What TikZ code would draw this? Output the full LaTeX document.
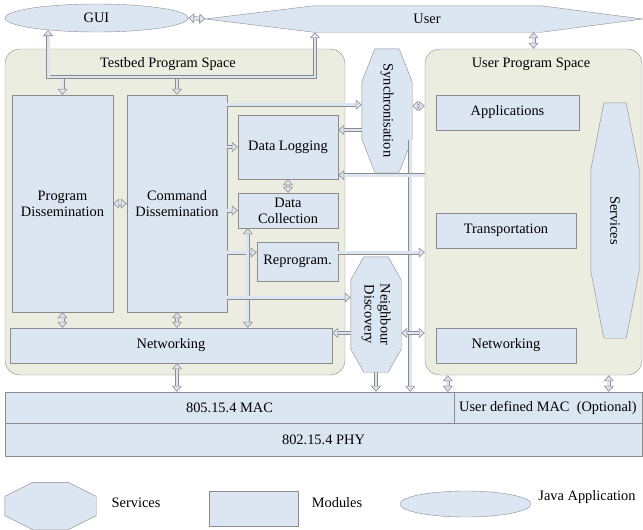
\documentclass[tikz,border=0pt]{standalone}
\usepackage{fontspec}
\setmainfont{Liberation Serif}
\usetikzlibrary{arrows.meta,positioning,calc,shapes.geometric}
\definecolor{modfill}{HTML}{DCE6F2}
\definecolor{spacefill}{HTML}{EBEDE1}
\definecolor{edgegray}{HTML}{8C8C8C}

% octagon round a bounding node: #2 = horizontal cut, #3 = vertical cut
\newcommand{\svcoutline}[3]{%
  \draw[svcshape] ([xshift=#2pt]#1.north west) -- ([xshift=-#2pt]#1.north east)
    -- ([yshift=-#3pt]#1.north east) -- ([yshift=#3pt]#1.south east)
    -- ([xshift=-#2pt]#1.south east) -- ([xshift=#2pt]#1.south west)
    -- ([yshift=#3pt]#1.south west) -- ([yshift=-#3pt]#1.north west) -- cycle;}

\begin{document}
\begin{tikzpicture}[x=1pt,y=-1pt,every node/.style={font=\fontsize{14.4}{16}\selectfont},
  spacebox/.style={draw=edgegray,fill=spacefill,rounded corners=15pt,inner sep=0pt},
  module/.style={draw=edgegray,fill=modfill,inner sep=0pt,align=center},
  svcbox/.style={inner sep=0pt},
  svcshape/.style={draw=edgegray,fill=modfill},
  javaapp/.style={ellipse,draw=edgegray,fill=modfill,inner sep=0pt},
  hollow/.tip={Triangle[fill=modfill,line width=0.6pt,width=10pt,length=6pt]},
  pipe/.style={draw=edgegray,line width=0.6pt,double=modfill,double distance=2.8pt},
  pipeto/.style={pipe,-hollow},
  pipeboth/.style={pipe,hollow-hollow}]
  \useasboundingbox (0,0) rectangle (643,530);

  % program spaces
  \node[spacebox,minimum width=340pt,minimum height=326pt] (testbed) at (175,212) {};
  \node[spacebox,minimum width=217pt,minimum height=326pt] (ups) at (533.5,212) {};
  \node[anchor=base] (testbedtitle) at (168,67) {Testbed Program Space};
  \node[anchor=base] (upstitle) at (531,67) {User Program Space};

  % java applications
  \node[javaapp,minimum width=183pt,minimum height=28pt] (gui) at (96.5,18) {GUI};
  \node[svcbox,minimum width=437pt,minimum height=26pt] (user) at (424,19) {};
  \draw[svcshape] (user.west) -- ([xshift=108pt]user.north west) -- ([xshift=-101pt]user.north east)
    -- (user.east) -- ([xshift=-101pt]user.south east) -- ([xshift=108pt]user.south west) -- cycle;
  \node (usertext) at (427,19) {User};

  % testbed modules
  \node[module,minimum width=101pt,minimum height=217pt] (progdis) at (62.5,203.5) {Program\\Dissemination};
  \node[module,minimum width=100pt,minimum height=217pt] (cmddis) at (177,203.5) {Command\\Dissemination};
  \node[module,minimum width=100pt,minimum height=64pt] (datalog) at (288,147) {Data Logging};
  \node[module,minimum width=100pt,minimum height=35pt] (datacol) at (288,210.5) {Data\\Collection};
  \node[module,minimum width=81pt,minimum height=39pt] (reprog) at (297.5,261.5) {Reprogram.};
  \node[module,minimum width=322pt,minimum height=35pt] (tbnet) at (171,345.5) {Networking};

  % user modules
  \node[module,minimum width=143pt,minimum height=35pt] (apps) at (507.5,112.5) {Applications};
  \node[module,minimum width=140pt,minimum height=35pt] (transport) at (506,230.5) {Transportation};
  \node[module,minimum width=140pt,minimum height=35pt] (usrnet) at (506,345.5) {Networking};

  % services
  \node[svcbox,minimum width=50pt,minimum height=123pt] (sync) at (387,110.5) {};
  \svcoutline{sync}{13}{33}
  \node[rotate=-90] (synclabel) at (sync) {Synchronisation};
  \node[svcbox,minimum width=50pt,minimum height=115pt] (nd) at (376,314.5) {};
  \svcoutline{nd}{13}{23}
  \node[rotate=-90,align=center] (ndlabel) at (nd) {Neighbour\\Discovery};
  \node[svcbox,minimum width=48pt,minimum height=235pt] (svc) at (615,220.5) {};
  \svcoutline{svc}{13}{67}
  \node[rotate=-90] (svclabel) at (svc) {Services};

  % MAC and PHY layers
  \node[module,minimum width=449pt,minimum height=31pt] (mac) at (229.5,407.5) {805.15.4 MAC};
  \node[module,minimum width=188pt,minimum height=31pt] (usrmac) at (548,407.5) {User defined MAC~ (Optional)};
  \node[module,minimum width=637pt,minimum height=33pt] (phy) at (323.5,439.5) {802.15.4 PHY};

  % GUI and user links
  \coordinate (busR) at (315,77);
  \draw[pipeboth] (gui.east) -- (user.west);
  \draw[pipeboth] (gui.194) |- (busR) -- (busR |- user.south);
  \draw[pipeto] ($(progdis.north |- busR)+(0,2)$) -- (progdis.north);
  \draw[pipeto] ($(cmddis.north |- busR)+(0,2)$) -- (cmddis.north);
  \draw[pipeboth] (ups.north |- user.south) -- (ups.north);

  % inside the testbed space
  \draw[pipeboth] (progdis.east) -- (cmddis.west);
  \draw[pipeto] (cmddis.east |- datalog.west) -- (datalog.west);
  \draw[pipeto] (cmddis.east |- datacol.west) -- (datacol.west);
  \coordinate (reprogin) at ($(reprog.west)+(0,-9)$);
  \draw[pipeto] (cmddis.east |- reprogin) -- (reprogin);
  \draw[pipeboth] (datalog.south) -- (datacol.north);
  \coordinate (colnet) at ($(datacol.south west)+(10,0)$);
  \draw[pipeboth] (colnet) -- (colnet |- tbnet.north);
  \draw[pipeboth] (progdis.south) -- (progdis.south |- tbnet.north);
  \draw[pipeboth] (cmddis.south) -- (cmddis.south |- tbnet.north);

  % to and from the services
  \coordinate (cmdsync) at ($(cmddis.north east)+(0,10)$);
  \draw[pipeto] (cmdsync) -- (cmdsync -| sync.west);
  \coordinate (synclog) at ($(sync.west)+(0,19.5)$);
  \draw[pipeto] (synclog) -- (synclog -| datalog.east);
  \coordinate (syncups) at ($(sync.east)+(0,-4.5)$);
  \draw[pipeboth] (syncups) -- (syncups -| ups.west);
  \coordinate (cmdnd) at ($(nd.west)+(0,-17)$);
  \draw[pipeto] (cmddis.east |- cmdnd) -- (cmdnd);
  \coordinate (ndnet) at ($(nd.west)+(0,18.5)$);
  \draw[pipeto] (ndnet) -- (ndnet -| tbnet.east);
  \coordinate (syncdrop) at ($(sync.south east)+(-2,-32)$);
  \draw[pipeto] (syncdrop) -- (syncdrop |- mac.north);
  \draw[pipeboth] (ndnet -| nd.east) -- (ndnet -| ups.west);
  \draw[pipeto] (nd.south) -- (nd.south |- mac.north);

  % between the two spaces
  \coordinate (logback) at ($(datalog.south east)+(0,-4)$);
  \draw[pipeto] (ups.west |- logback) -- (logback);
  \draw[pipeto] (reprog.east |- reprogin) -- (ups.west |- reprogin);

  % down to the MAC layer
  \draw[pipeboth] (cmddis.south |- tbnet.south) -- (cmddis.south |- mac.north);
  \coordinate (upsmacl) at ($(ups.south west)+(23,0)$);
  \draw[pipeboth] (upsmacl) -- (upsmacl |- mac.north);
  \coordinate (upsmacr) at ($(ups.south west)+(184,0)$);
  \draw[pipeboth] (upsmacr) -- (upsmacr |- usrmac.north);

  % legend
  \node[svcbox,minimum width=91pt,minimum height=47pt] (legsvc) at (50.5,506) {};
  \svcoutline{legsvc}{28}{14}
  \node (legsvctext) at (136,503) {Services};
  \node[module,minimum width=89pt,minimum height=35pt] (legmod) at (253.5,508.5) {};
  \node (legmodtext) at (337,503) {Modules};
  \node[javaapp,minimum width=131pt,minimum height=26pt] (legjava) at (465.5,504) {};
  \node (legjavatext) at (587,497) {Java Application};
\end{tikzpicture}
\end{document}
